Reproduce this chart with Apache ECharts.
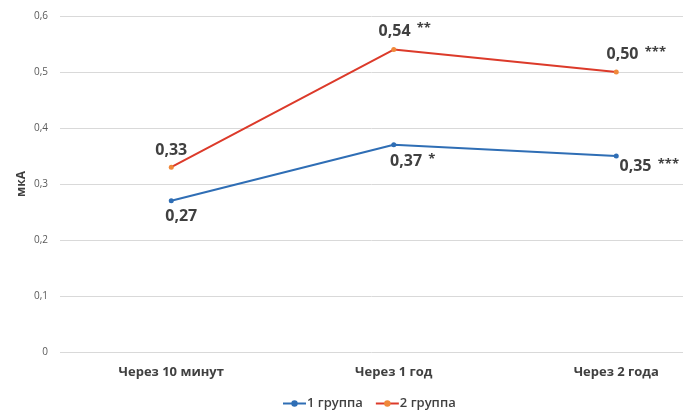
<!DOCTYPE html>
<html>
<head>
<meta charset="utf-8">
<script src="https://cdn.jsdelivr.net/npm/echarts@6/dist/echarts.min.js"></script>
<style>
  html, body { margin: 0; padding: 0; background: #fff; }
  #chart { width: 692px; height: 412px; }
</style>
</head>
<body>
<div id="chart"></div>
<script>
// Measurement moments along the x axis
var categories = ['Через 10 минут', 'Через 1 год', 'Через 2 года'];
// Current, мкА
var group1 = [0.27, 0.37, 0.35];
var group2 = [0.33, 0.54, 0.50];
// Significance marks shown next to the values
var group1Stars = ['', '*', '***'];
var group2Stars = ['', '**', '***'];
var yAxisTitle = 'мкА';

// Label placement per point
var group1Pos = ['bottom', 'bottom', 'bottom'];
var group1Offsets = [[10, 0], [19, 0], [33, -6]];
var group2Pos = ['top', 'top', 'top'];
var group2Offsets = [[0, -1], [11, -2], [20, -1]];

function fmtNum(v) {
  return v === 0 ? '0' : v.toFixed(2).replace('.', ',');
}

function buildData(values, stars, pos, offs) {
  return values.map(function (v, i) {
    return {
      value: [i, v],
      label: {
        position: pos[i],
        offset: offs[i],
        formatter: '{v|' + fmtNum(v) + '}' + (stars[i] ? '  {s|' + stars[i] + '}' : '')
      }
    };
  });
}

var labelRich = {
  v: { fontSize: 16, fontWeight: 'bold', color: '#404040', fontFamily: 'Open Sans' },
  s: { fontSize: 13, fontWeight: 'bold', color: '#404040', fontFamily: 'Open Sans', padding: [0, 0, 5, 0] }
};

var chart = echarts.init(document.getElementById('chart'), null, { renderer: 'canvas' });
chart.setOption({
  animation: false,
  textStyle: { fontFamily: 'Open Sans' },
  grid: { left: 60, right: 9, top: 16, bottom: 60 },
  graphic: [{
    type: 'text',
    x: 22,
    y: 184,
    rotation: Math.PI / 2,
    style: {
      text: yAxisTitle,
      fontSize: 12,
      fontWeight: 'bold',
      fontFamily: 'Open Sans',
      fill: '#404040',
      align: 'center',
      verticalAlign: 'middle'
    }
  }],
  legend: {
    top: 392,
    left: 277,
    itemWidth: 23,
    itemHeight: 8,
    itemGap: 12,
    textStyle: { fontSize: 13, fontWeight: 600, color: '#404040', fontFamily: 'Open Sans', padding: [0, 0, 0, -4] },
    data: ['1 группа', '2 группа']
  },
  xAxis: {
    type: 'value',
    min: -0.5,
    max: 2.3,
    axisLine: { show: false },
    axisTick: { show: false },
    splitLine: { show: false },
    axisLabel: {
      customValues: [0, 1, 2],
      margin: 14,
      fontSize: 13,
      fontWeight: 'bold',
      color: '#404040',
      formatter: function (v) { return categories[Math.round(v)]; }
    }
  },
  yAxis: {
    type: 'value',
    min: 0,
    max: 0.6,
    interval: 0.1,
    axisLine: { show: false },
    axisTick: { show: false },
    splitLine: { lineStyle: { color: '#d9d9d9', width: 1 } },
    axisLabel: {
      fontSize: 10,
      color: '#595959',
      margin: 12,
      formatter: function (v) {
        var r = Math.round(v * 10) / 10;
        return r === 0 ? '0' : r.toFixed(1).replace('.', ',');
      }
    }
  },
  series: [
    {
      name: '1 группа',
      type: 'line',
      data: buildData(group1, group1Stars, group1Pos, group1Offsets),
      symbol: 'circle',
      symbolSize: 5,
      lineStyle: { color: '#2f6eb5', width: 2 },
      itemStyle: { color: '#2f6eb5' },
      label: { show: true, rich: labelRich }
    },
    {
      name: '2 группа',
      type: 'line',
      data: buildData(group2, group2Stars, group2Pos, group2Offsets),
      symbol: 'circle',
      symbolSize: 5,
      lineStyle: { color: '#dc3a2a', width: 2 },
      itemStyle: { color: '#f0883a' },
      label: { show: true, rich: labelRich }
    }
  ]
});
</script>
</body>
</html>
